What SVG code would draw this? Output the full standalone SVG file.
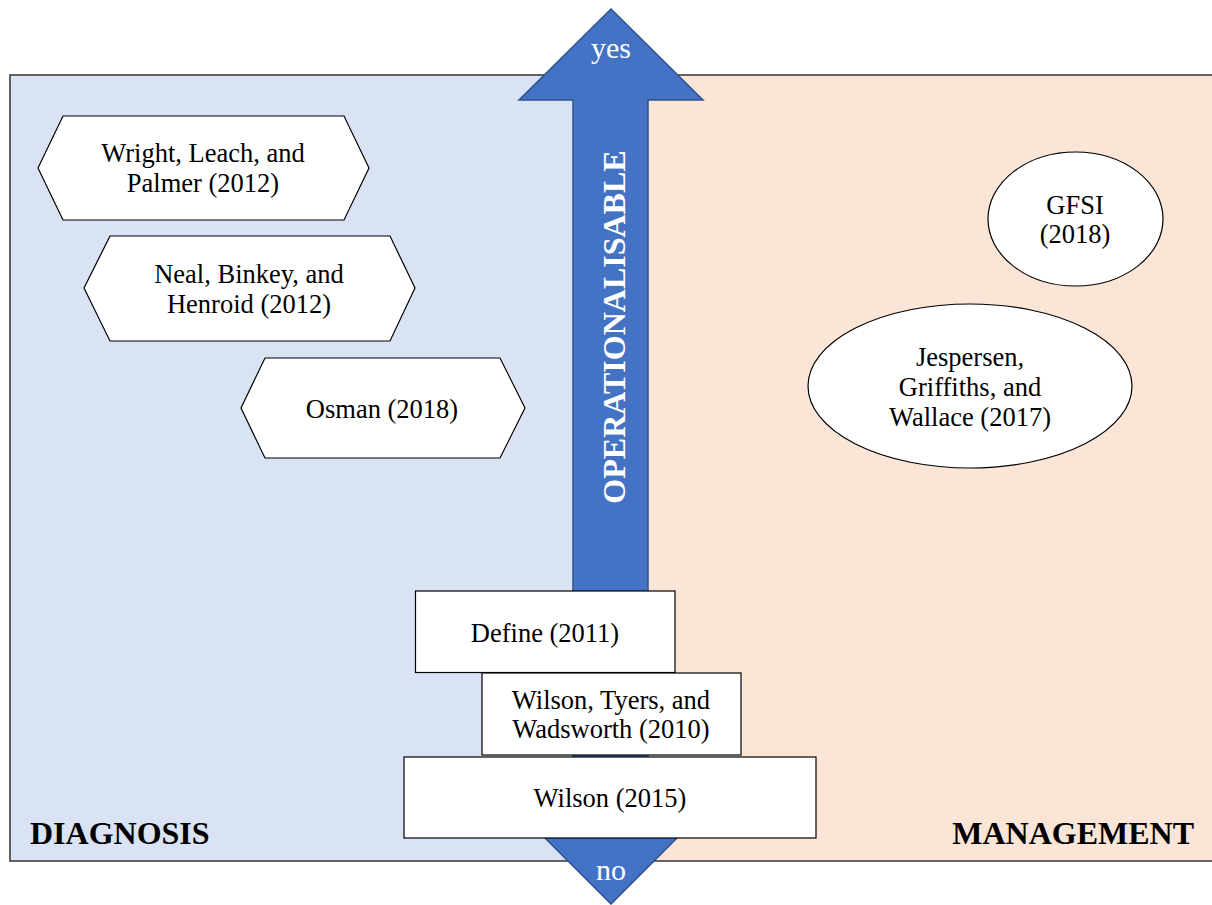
<svg xmlns="http://www.w3.org/2000/svg" width="1212" height="905" viewBox="0 0 1212 905">
  <style>
    .node { fill: #ffffff; stroke: #000000; stroke-width: 1.2; }
    .t { font-family: "Liberation Serif", "Times New Roman", serif; font-size: 26.5px; fill: #000000; text-anchor: middle; }
    .lbl { font-family: "Liberation Serif", "Times New Roman", serif; font-size: 32px; font-weight: bold; fill: #000000; }
    .w { font-family: "Liberation Serif", "Times New Roman", serif; fill: #ffffff; text-anchor: middle; }
  </style>
  <rect x="0" y="0" width="1212" height="905" fill="#ffffff"/>
  <g id="background">
    <rect x="10" y="75" width="601" height="786" fill="#DAE3F3"/>
    <rect x="611" y="75" width="605" height="786" fill="#FBE5D6"/>
    <rect x="10" y="75" width="1206" height="786" fill="none" stroke="#333333" stroke-width="1.5"/>
    <text class="lbl" x="30" y="844">DIAGNOSIS</text>
    <text class="lbl" x="1194" y="844" text-anchor="end">MANAGEMENT</text>
  </g>
  <g id="axis">
    <polygon points="611,9 703,100 648,100 648,812 703,812 611,904 519,812 573,812 573,100 519,100" fill="#4472C4" stroke="#2F528F" stroke-width="1.5" stroke-linejoin="miter"/>
    <text class="w" x="611" y="58" font-size="30">yes</text>
    <text class="w" x="611" y="880" font-size="30">no</text>
    <text class="w" font-size="32" font-weight="bold" transform="translate(625,327) rotate(-90)">OPERATIONALISABLE</text>
  </g>
  <g id="wright">
    <polygon class="node" points="38,168 63,116 344,116 369,168 344,220 63,220"/>
    <text class="t" x="203" y="162">Wright, Leach, and</text>
    <text class="t" x="203" y="192">Palmer (2012)</text>
  </g>
  <g id="neal">
    <polygon class="node" points="84,288 110,236 390,236 415,288 390,341 110,341"/>
    <text class="t" x="249" y="283">Neal, Binkey, and</text>
    <text class="t" x="249" y="313">Henroid (2012)</text>
  </g>
  <g id="osman">
    <polygon class="node" points="241,408 265,358 500,358 525,408 500,458 265,458"/>
    <text class="t" x="382" y="418">Osman (2018)</text>
  </g>
  <g id="gfsi">
    <ellipse class="node" cx="1075.5" cy="219" rx="87.5" ry="67"/>
    <text class="t" x="1075" y="214">GFSI</text>
    <text class="t" x="1075" y="243">(2018)</text>
  </g>
  <g id="jespersen">
    <ellipse class="node" cx="970" cy="386" rx="162" ry="82"/>
    <text class="t" x="970" y="366">Jespersen,</text>
    <text class="t" x="970" y="396">Griffiths, and</text>
    <text class="t" x="970" y="426">Wallace (2017)</text>
  </g>
  <g id="define">
    <rect class="node" x="415.5" y="591" width="259.5" height="81.5"/>
    <text class="t" x="545" y="642">Define (2011)</text>
  </g>
  <g id="wilson-tyers">
    <rect class="node" x="482" y="673" width="259" height="82"/>
    <text class="t" x="611" y="709">Wilson, Tyers, and</text>
    <text class="t" x="611" y="738">Wadsworth (2010)</text>
  </g>
  <g id="wilson2015">
    <rect class="node" x="404" y="757" width="412" height="81"/>
    <text class="t" x="610" y="807">Wilson (2015)</text>
  </g>
</svg>
